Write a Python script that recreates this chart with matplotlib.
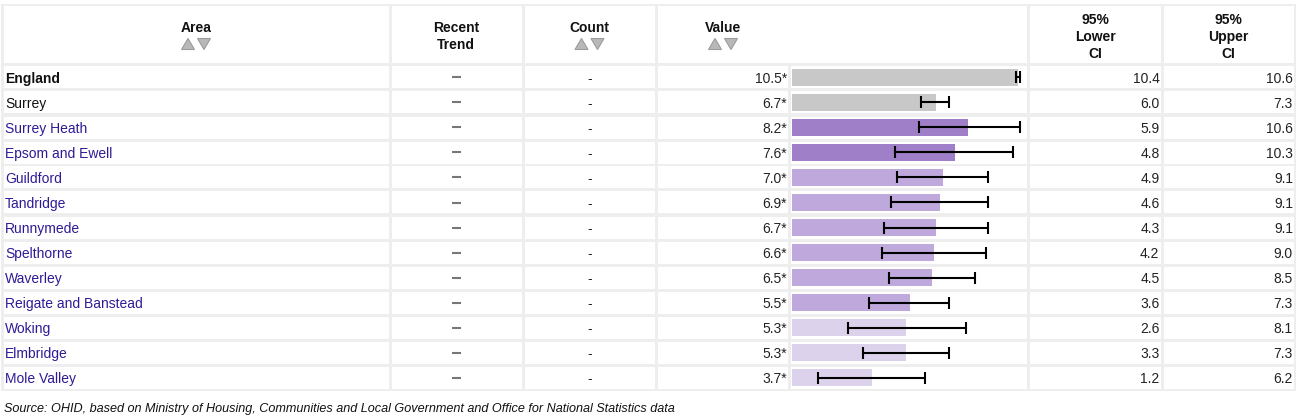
import matplotlib.pyplot as plt
from matplotlib import patches

plt.rcParams['font.family'] = ['Liberation Sans', 'DejaVu Sans']

# --- data ---
areas = ["England", "Surrey", "Surrey Heath", "Epsom and Ewell", "Guildford", "Tandridge",
         "Runnymede", "Spelthorne", "Waverley", "Reigate and Banstead", "Woking",
         "Elmbridge", "Mole Valley"]
values = [10.5, 6.7, 8.2, 7.6, 7.0, 6.9, 6.7, 6.6, 6.5, 5.5, 5.3, 5.3, 3.7]
lower_ci = [10.4, 6.0, 5.9, 4.8, 4.9, 4.6, 4.3, 4.2, 4.5, 3.6, 2.6, 3.3, 1.2]
upper_ci = [10.6, 7.3, 10.6, 10.3, 9.1, 9.1, 9.1, 9.0, 8.5, 7.3, 8.1, 7.3, 6.2]
bands = ["bench", "bench", "high", "high", "mid", "mid", "mid", "mid", "mid", "mid",
         "low", "low", "low"]
band_colors = {"bench": "#c8c8c8", "high": "#9f7fc7", "mid": "#bea8dc", "low": "#ddd2eb"}

W, H = 1297, 419
fig = plt.figure(figsize=(W / 100, H / 100), dpi=100)
ax = fig.add_axes([0, 0, 1, 1])
ax.set_xlim(0, W)
ax.set_ylim(H, 0)
ax.axis('off')

grid_col = "#eeeeee"
link_col = "#2f1a96"
fs = 10.0

# column edges and rows
head_cols = [(2, 390), (390, 523), (523, 656), (656, 1028), (1028, 1162), (1162, 1295)]
body_cols = [(2, 390), (390, 523), (523, 656), (656, 789), (789, 1028), (1028, 1162), (1162, 1295)]
top, head_bot, row_h = 5, 65, 25
n = len(areas)
bottom = head_bot + n * row_h

ax.add_patch(patches.Rectangle((1, top - 1), 1295, bottom - top + 2, color=grid_col, lw=0))


def cell(x0, x1, y0, y1):
    ax.add_patch(patches.Rectangle((x0 + 1.5, y0 + 1.5), x1 - x0 - 3, y1 - y0 - 3,
                                   color="white", lw=0))


for x0, x1 in head_cols:
    cell(x0, x1, top, head_bot)
for i in range(n):
    y0 = head_bot + i * row_h
    for x0, x1 in body_cols:
        cell(x0, x1, y0, y0 + row_h)

# header text
hkw = dict(ha='center', va='center', fontsize=fs, fontweight='bold', color='#111111')
ax.text(196, 28, "Area", **hkw)
ax.text(456, 27.5, "Recent", **hkw)
ax.text(456, 45, "Trend", **hkw)
ax.text(589.5, 28, "Count", **hkw)
ax.text(723, 28, "Value", **hkw)
for cx, word in [(1095, "Lower"), (1228.5, "Upper")]:
    ax.text(cx, 19.5, "95%", **hkw)
    ax.text(cx, 37, word, **hkw)
    ax.text(cx, 54.5, "CI", **hkw)

# sort arrows
for c in [196, 589.5, 723]:
    u = c - 8
    d = c + 8
    ax.add_patch(patches.Polygon([(u - 6.5, 49.5), (u + 6.5, 49.5), (u, 38.5)],
                                 closed=True, fc="#b8b8b8", ec="#9c9c9c", lw=0.8))
    ax.add_patch(patches.Polygon([(d - 6.5, 38.5), (d + 6.5, 38.5), (d, 49.5)],
                                 closed=True, fc="#b8b8b8", ec="#9c9c9c", lw=0.8))

# body text
for i, name in enumerate(areas):
    yc = head_bot + i * row_h + 14
    if i == 0:
        ax.text(5, yc, name, ha='left', va='center', fontsize=fs, fontweight='bold', color='#111111')
    elif i == 1:
        ax.text(5, yc, name, ha='left', va='center', fontsize=fs, color='#111111')
    else:
        ax.text(5, yc, name, ha='left', va='center', fontsize=fs, color=link_col)
    ax.plot([451.5, 460.5], [yc - 1.5, yc - 1.5], color='#777777', lw=1.5, solid_capstyle='butt')
    ax.text(589.5, yc, "-", ha='center', va='center', fontsize=fs, color='#222222')
    ax.text(787, yc, f"{values[i]:.1f}*", ha='right', va='center', fontsize=fs, color='#222222')
    ax.text(1159.5, yc, f"{lower_ci[i]:.1f}", ha='right', va='center', fontsize=fs, color='#222222')
    ax.text(1293, yc, f"{upper_ci[i]:.1f}", ha='right', va='center', fontsize=fs, color='#222222')

ax.text(4, 408.5, "Source: OHID, based on Ministry of Housing, Communities and Local Government "
        "and Office for National Statistics data", ha='left', va='center', fontsize=9.1,
        style='italic', color='#111111')

# bar axes: 0..11 mapped to pixels 792..1028.5
bx0, bx1 = 792, 792 + 11 * 21.5
bar_ax = fig.add_axes([bx0 / W, 1 - bottom / H, (bx1 - bx0) / W, (bottom - head_bot) / H])
bar_ax.set_xlim(0, 11)
bar_ax.set_ylim(n, 0)
bar_ax.axis('off')
bar_ax.patch.set_visible(False)
ypos = [i + 0.5 for i in range(n)]
bar_ax.barh(ypos, values, height=0.68, color=[band_colors[b] for b in bands], lw=0)
err_lo = [v - lo for v, lo in zip(values, lower_ci)]
err_hi = [hi - v for v, hi in zip(values, upper_ci)]
bar_ax.errorbar(values, ypos, xerr=[err_lo, err_hi], fmt='none', ecolor='black',
                elinewidth=1.5, capsize=4.3, capthick=1.5)

fig.savefig("out.png", dpi=100)
